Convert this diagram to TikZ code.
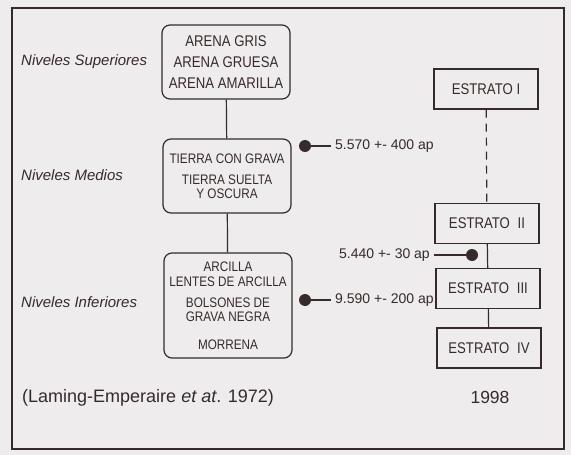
\documentclass[tikz,border=0pt]{standalone}
\usepackage{fontspec}
\setmainfont{Liberation Sans}
\newfontfamily\condfont[FakeStretch=0.85]{Liberation Sans}
\usetikzlibrary{positioning,shapes}
\definecolor{ink}{RGB}{55,42,42}
\definecolor{paper}{RGB}{238,236,236}

\begin{document}
\begin{tikzpicture}[x=1pt,y=-1pt,color=ink,
    capa/.style={draw,line width=1.2pt,rounded corners=8pt,minimum width=128pt,align=center,inner sep=0pt,font=\condfont\fontsize{13.8}{14.5}\selectfont},
    estrato/.style={draw,line width=1.2pt,minimum width=104pt,minimum height=40pt,inner sep=0pt,font=\condfont\fontsize{15.5}{16}\selectfont},
    nivel/.style={anchor=west,inner sep=0pt,font=\itshape\fontsize{15}{18}\selectfont},
    fecha/.style={inner sep=4pt,font=\fontsize{14}{16}\selectfont},
    punto/.style={circle,fill,minimum size=12pt,inner sep=0pt},
    enlace/.style={line width=1.2pt}]
      \useasboundingbox (0,0) rectangle (571,455);
      \fill[paper] (0,0) rectangle (571,455);
      \draw[line width=1.3pt] (12,8) rectangle (564,449);

      \node[nivel] at (21,62) (sup) {Niveles Superiores};
      \node[nivel] at (21,175) (med) {Niveles Medios};
      \node[nivel] at (21,302) (inf) {Niveles Inferiores};

      \node[capa,minimum height=74pt,font=\condfont\fontsize{15.5}{16}\selectfont] at (226,62) (arena)
        {ARENA GRIS\\[5pt]ARENA GRUESA\\[5pt]ARENA AMARILLA};
      \node[capa,minimum height=74pt] at (227,176) (tierra)
        {TIERRA CON GRAVA\\[6.5pt]TIERRA SUELTA\\Y OSCURA};
      \node[capa,minimum height=105pt] at (228,305.5) (arcilla)
        {ARCILLA\\[0.5pt]LENTES DE ARCILLA\\[6.5pt]BOLSONES DE\\GRAVA NEGRA\\[13.5pt]MORRENA};

      \node[estrato] at (486,89) (e1) {ESTRATO I};
      \node[estrato] at (487,223.5) (e2) {ESTRATO\enspace II};
      \node[estrato] at (488,288.5) (e3) {ESTRATO\enspace III};
      \node[estrato] at (489,348) (e4) {ESTRATO\enspace IV};

      \node[punto] at (305,146) (p1) {};
      \node[fecha,anchor=west] at (331,146) (f1) {5.570 +- 400 ap};
      \node[punto] at (472,255) (p2) {};
      \node[fecha,anchor=east] at (434,255) (f2) {5.440 +- 30 ap};
      \node[punto] at (305,300) (p3) {};
      \node[fecha,anchor=west] at (331,300) (f3) {9.590 +- 200 ap};

      \node[anchor=west,inner sep=0pt,font=\fontsize{18}{20}\selectfont] at (22,398) (cita)
        {(Laming-Emperaire \textit{et at}. 1972)};
      \node[font=\fontsize{17.5}{20}\selectfont] at (490,397) (anio) {1998};

      \draw[enlace] (arena) -- (tierra);
      \draw[enlace] (tierra) -- (arcilla);
      \draw[enlace,dash pattern=on 8pt off 6pt] (e1) -- (e2);
      \draw[enlace] (e2) -- (e3);
      \draw[enlace] (e3) -- (e4);
      \draw[enlace] (p1) -- (f1);
      \draw[enlace] (f2) -- (p2);
      \draw[enlace] (p3) -- (f3);
    \end{tikzpicture}
\end{document}
